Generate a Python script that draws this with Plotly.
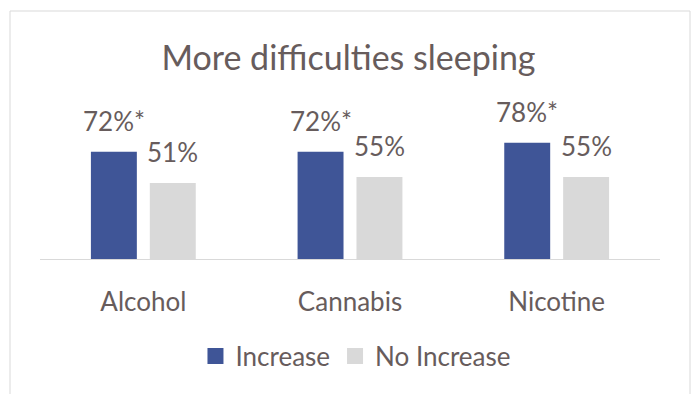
import plotly.graph_objects as go

# Share of respondents reporting more difficulties sleeping
categories = ["Alcohol", "Cannabis", "Nicotine"]
increase = [72, 72, 78]
no_increase = [51, 55, 55]
significant = [True, True, True]

series_names = ["Increase", "No Increase"]
colors = ["#3f5597", "#d9d9d9"]
text_color = "#675c5c"
font_family = "Lato, 'Open Sans', sans-serif"

fig = go.Figure()
for name, vals, col in zip(series_names, [increase, no_increase], colors):
    fig.add_trace(go.Bar(
        x=categories, y=vals, name=name, marker_color=col,
        marker_line_width=0, hoverinfo="skip", showlegend=False,
        legendgroup=name,
    ))
    # Legend key drawn as a larger square swatch
    fig.add_trace(go.Scatter(
        x=[None], y=[None], mode="markers", name=name, legendgroup=name,
        marker=dict(symbol="square", size=16, color=col),
        hoverinfo="skip",
    ))

# Value labels above each bar
annotations = []
for i, cat in enumerate(categories):
    for vals, shift, star in [(increase, -29.5, significant[i]), (no_increase, 29.5, False)]:
        annotations.append(dict(
            x=cat, y=vals[i], xref="x", yref="y",
            text=f"{vals[i]}%" + ("*" if star else ""),
            showarrow=False, xshift=shift, yshift=13,
            xanchor="center", yanchor="bottom",
            font=dict(family=font_family, size=26, color=text_color),
        ))

fig.update_layout(
    width=697, height=394,
    margin=dict(l=40, r=37, t=110, b=135),
    paper_bgcolor="white", plot_bgcolor="white",
    barmode="group", bargap=0.43, bargroupgap=0.22,
    title=dict(
        text="More difficulties sleeping",
        x=0.5, xref="container", xanchor="center",
        y=1 - 58 / 394, yref="container", yanchor="middle",
        font=dict(family=font_family, size=34, color=text_color),
    ),
    xaxis=dict(
        showline=True, linecolor="#d9d9d9", linewidth=1,
        ticks="", showgrid=False, ticklabelstandoff=20,
        tickfont=dict(family=font_family, size=26, color=text_color),
        fixedrange=True,
    ),
    yaxis=dict(range=[0, 100], visible=False, showgrid=False, fixedrange=True),
    legend=dict(
        orientation="h", xref="container", yref="container",
        x=0.51, xanchor="center", y=1 - 356 / 394, yanchor="middle",
        font=dict(family=font_family, size=26, color=text_color),
        itemwidth=30, traceorder="normal",
    ),
    annotations=annotations,
    shapes=[dict(
        type="rect", xref="paper", yref="paper",
        x0=(10 - 40) / 620, x1=(690 - 40) / 620,
        y0=(259 - 420) / 149, y1=(259 - 11) / 149,
        line=dict(color="#d9d9d9", width=1), fillcolor="rgba(0,0,0,0)",
        layer="below",
    )],
)

fig.write_html("out.html")
